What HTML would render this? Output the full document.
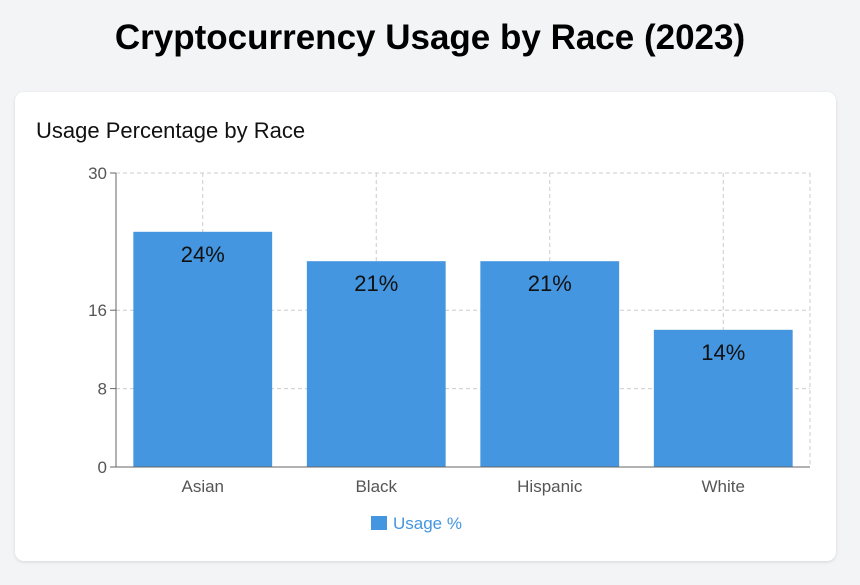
<!DOCTYPE html>
<html><head><meta charset="utf-8"><style>
body{margin:0;width:860px;height:585px;background:#f3f4f6;font-family:"Liberation Sans","DejaVu Sans",sans-serif;overflow:hidden;position:relative}
h1{position:absolute;top:18px;left:0;width:860px;text-align:center;margin:0;font-size:35px;font-weight:bold;color:#000}
.card{position:absolute;left:15px;top:92px;width:821px;height:469px;background:#fff;border-radius:9px;box-shadow:0 1px 3px rgba(0,0,0,0.12)}
.sub{position:absolute;left:21px;top:26px;font-size:22px;color:#111}
svg{position:absolute;left:0;top:0}
</style></head><body>
<h1>Cryptocurrency Usage by Race (2023)</h1>
<div class="card">
<div class="sub">Usage Percentage by Race</div>
</div>
<svg id="chart" width="860" height="585"></svg>
<script>
const categories=["Asian","Black","Hispanic","White"];
const values=[24,21,21,14];
const ticks=[0,8,16,30];
const ns="http://www.w3.org/2000/svg";
const svg=document.getElementById('chart');
const x0=116,x1=810,y0=467,y1=173,yMax=30;
const bw=(x1-x0)/categories.length;
const ys=v=>y0-(v/yMax)*(y0-y1);
const xs=i=>x0+bw*i;
function mk(t,a){const e=document.createElementNS(ns,t);for(const k in a)e.setAttribute(k,a[k]);svg.appendChild(e);return e;}
// grid
ticks.forEach(t=>{if(t===0)return;const l=mk('line',{x1:x0,x2:x1,y1:ys(t),y2:ys(t),stroke:'#ccc','stroke-dasharray':'4 3'});

});
categories.forEach((c,i)=>{const l=mk('line',{x1:xs(i)+bw/2,x2:xs(i)+bw/2,y1:y1,y2:y0,stroke:'#ccc','stroke-dasharray':'4 3'});

});
mk('line',{x1:x1,x2:x1,y1:y1,y2:y0,stroke:'#ccc','stroke-dasharray':'4 3'});
// bars
categories.forEach((c,i)=>{
const pad=bw*0.1;
const r=mk('rect',{x:xs(i)+pad,y:ys(values[i]),width:bw-2*pad,height:y0-ys(values[i]),fill:'#4496e0'});


const t=mk('text',{x:xs(i)+bw/2,y:ys(values[i])+30,'text-anchor':'middle','font-size':22,fill:'#111'});
t.textContent=values[i]+'%';


const xl=mk('text',{x:xs(i)+bw/2,y:y0+25,'text-anchor':'middle','font-size':17,fill:'#555'});
xl.textContent=c;


});
// axes
const ya=mk('line',{x1:x0,x2:x0,y1:y1,y2:y0,stroke:'#666'});


const xa=mk('line',{x1:x0,x2:x1,y1:y0,y2:y0,stroke:'#666'});


ticks.forEach(t=>{mk('line',{x1:x0-6,x2:x0,y1:ys(t),y2:ys(t),stroke:'#666'});
const tl=mk('text',{x:x0-9,y:ys(t)+6,'text-anchor':'end','font-size':17,fill:'#555'});
tl.textContent=t;

});
// legend
const lr=mk('rect',{x:371,y:516,width:16,height:14,fill:'#4496e0'});


const lt=mk('text',{x:393,y:529,'font-size':17,fill:'#4496e0'});
lt.textContent='Usage %';


</script>
</body></html>
